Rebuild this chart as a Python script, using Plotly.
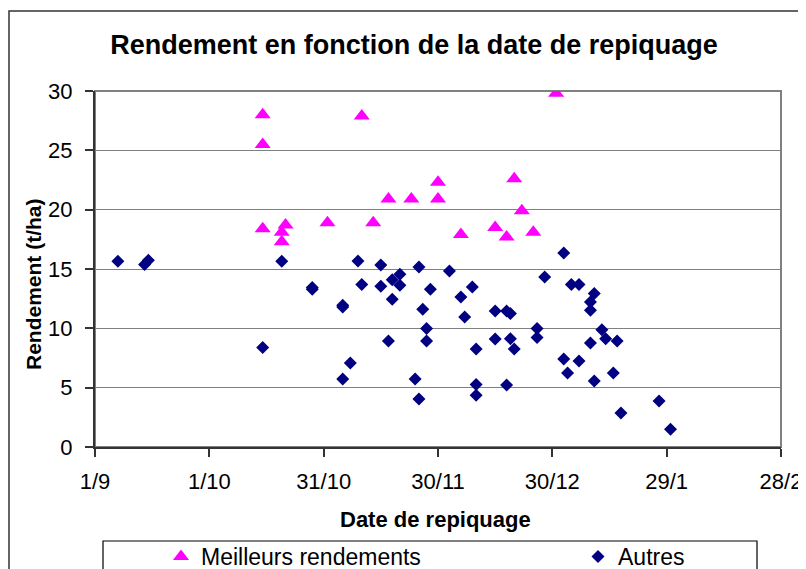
import plotly.graph_objects as go

# ---- data ----
dates_best = ["2005-10-15", "2005-10-15", "2005-10-15", "2005-10-21", "2005-10-20", "2005-10-20",
              "2005-11-01", "2005-11-10", "2005-11-13", "2005-11-17", "2005-11-23", "2005-11-30",
              "2005-11-30", "2005-12-06", "2005-12-15", "2005-12-18", "2005-12-20", "2005-12-22",
              "2005-12-25", "2005-12-31"]
yield_best = [28.0, 25.5, 18.4, 18.7, 18.1, 17.3, 18.9, 27.9, 18.9, 20.9, 20.9, 22.3,
              20.9, 17.9, 18.5, 17.7, 22.6, 19.9, 18.1, 29.8]

dates_other = ["2005-09-07", "2005-09-14", "2005-09-15", "2005-10-15", "2005-10-20", "2005-10-28",
               "2005-10-28", "2005-11-05", "2005-11-05", "2005-11-05", "2005-11-07", "2005-11-09",
               "2005-11-10", "2005-11-15", "2005-11-15", "2005-11-18", "2005-11-20", "2005-11-20",
               "2005-11-18", "2005-11-17", "2005-11-24", "2005-11-25", "2005-11-25", "2005-11-26",
               "2005-11-27", "2005-11-27", "2005-11-28", "2005-12-03", "2005-12-06", "2005-12-07",
               "2005-12-09", "2005-12-10", "2005-12-10", "2005-12-10", "2005-12-15", "2005-12-15",
               "2005-12-18", "2005-12-19", "2005-12-18", "2005-12-19", "2005-12-20", "2005-12-26",
               "2005-12-26", "2005-12-28", "2006-01-02", "2006-01-02", "2006-01-03", "2006-01-04",
               "2006-01-06", "2006-01-06", "2006-01-10", "2006-01-09", "2006-01-09", "2006-01-09",
               "2006-01-10", "2006-01-12", "2006-01-13", "2006-01-16", "2006-01-15", "2006-01-17",
               "2006-01-27", "2006-01-30"]
yield_other = [15.65, 15.37, 15.73, 8.38, 15.65, 13.45,
               13.3, 11.95, 11.8, 5.73, 7.08, 15.67,
               13.69, 15.34, 13.54, 14.1, 14.55, 13.63,
               12.45, 8.93, 5.73, 15.17, 4.04, 11.6,
               9.98, 8.93, 13.29, 14.83, 12.64, 10.95,
               13.48, 8.26, 5.26, 4.36, 11.46, 9.10,
               11.46, 11.24, 5.22, 9.13, 8.26, 9.98,
               9.22, 14.33, 16.35, 7.42, 6.24, 13.69,
               13.69, 7.25, 12.93, 12.22, 11.52, 8.76,
               5.56, 9.89, 9.13, 8.93, 6.24, 2.87,
               3.88, 1.49]

x_tick_vals = ["2005-09-01", "2005-10-01", "2005-10-31", "2005-11-30", "2005-12-30", "2006-01-29", "2006-02-28"]
x_tick_text = ["1/9", "1/10", "31/10", "30/11", "30/12", "29/1", "28/2"]
y_tick_vals = [0, 5, 10, 15, 20, 25, 30]

FONT = "Arial, 'Liberation Sans', sans-serif"

# page places the figure 8px from top-left (body margin)
OFF = 8
W, H = 806, 569
# plot area in screen pixels
L, R, T, B = 95, 781, 91, 447
pw, ph = R - L, B - T


def px(xp):
    return (xp - L) / pw


def py(yp):
    return (B - yp) / ph


fig = go.Figure()
fig.add_trace(go.Scatter(
    x=dates_best, y=yield_best, mode="markers", name="Meilleurs rendements",
    marker=dict(symbol="triangle-up", size=14, color="#FF00FF"), legend="legend",
))
fig.add_trace(go.Scatter(
    x=dates_other, y=yield_other, mode="markers", name="Autres",
    marker=dict(symbol="diamond", size=10, color="#000080"), legend="legend2",
))

leg_common = dict(orientation="h", yanchor="top", bgcolor="rgba(0,0,0,0)", borderwidth=0,
                  font=dict(family=FONT, size=23, color="black"))

fig.update_layout(
    width=W, height=H,
    margin=dict(l=L - OFF, r=W - (R - OFF), t=T - OFF, b=H - (B - OFF), autoexpand=False),
    paper_bgcolor="white", plot_bgcolor="white",
    font=dict(family=FONT, size=22, color="black"),
    title=dict(text="<b>Rendement en fonction de la date de repiquage</b>",
               x=(414 - OFF) / W, xanchor="center", xref="container",
               y=1 - (45 - OFF) / H, yanchor="middle", yref="container",
               font=dict(family=FONT, size=27, color="black")),
    showlegend=True,
    legend=dict(x=px(161), xanchor="left", y=py(535), **leg_common),
    legend2=dict(x=px(578), xanchor="left", y=py(535), **leg_common),
)

fig.update_xaxes(
    type="date", range=["2005-09-01", "2006-02-28"],
    tickmode="array", tickvals=x_tick_vals, ticktext=x_tick_text,
    ticks="outside", ticklen=8, tickcolor="#333333", tickwidth=1.5,
    showline=True, linecolor="#333333", linewidth=2,
    showgrid=False, zeroline=False, automargin=False,
    tickfont=dict(family=FONT, size=22, color="black"),
    ticklabelstandoff=6,
)
fig.update_yaxes(
    range=[0, 30], tickmode="array", tickvals=y_tick_vals,
    ticks="outside", ticklen=8, tickcolor="#333333", tickwidth=1.5,
    showline=True, linecolor="#333333", linewidth=2,
    showgrid=True, gridcolor="#808080", gridwidth=1.2, zeroline=False, automargin=False,
    tickfont=dict(family=FONT, size=22, color="black"),
    ticklabelstandoff=8,
)

# plot-area border (gray) and outer chart frame
fig.add_shape(type="rect", xref="paper", yref="paper", x0=0, x1=1, y0=0, y1=1,
              line=dict(color="#808080", width=2), layer="below")
fig.add_shape(type="rect", xref="paper", yref="paper", x0=px(9), x1=px(830), y0=py(600), y1=py(11),
              line=dict(color="#333333", width=1.5), layer="below")
# legend frame
fig.add_shape(type="rect", xref="paper", yref="paper", x0=px(103), x1=px(757), y0=py(600), y1=py(541),
              line=dict(color="#000000", width=1.2), layer="below")

# axis titles
fig.add_annotation(text="<b>Date de repiquage</b>", xref="paper", yref="paper",
                   x=px(435), y=py(519), xanchor="center", yanchor="middle", showarrow=False,
                   font=dict(family=FONT, size=22, color="black"))
fig.add_annotation(text="<b>Rendement (t/ha)</b>", xref="paper", yref="paper",
                   x=px(33), y=py(284), xanchor="center", yanchor="middle", showarrow=False,
                   textangle=-90, font=dict(family=FONT, size=21, color="black"))

fig.write_html("out.html")
